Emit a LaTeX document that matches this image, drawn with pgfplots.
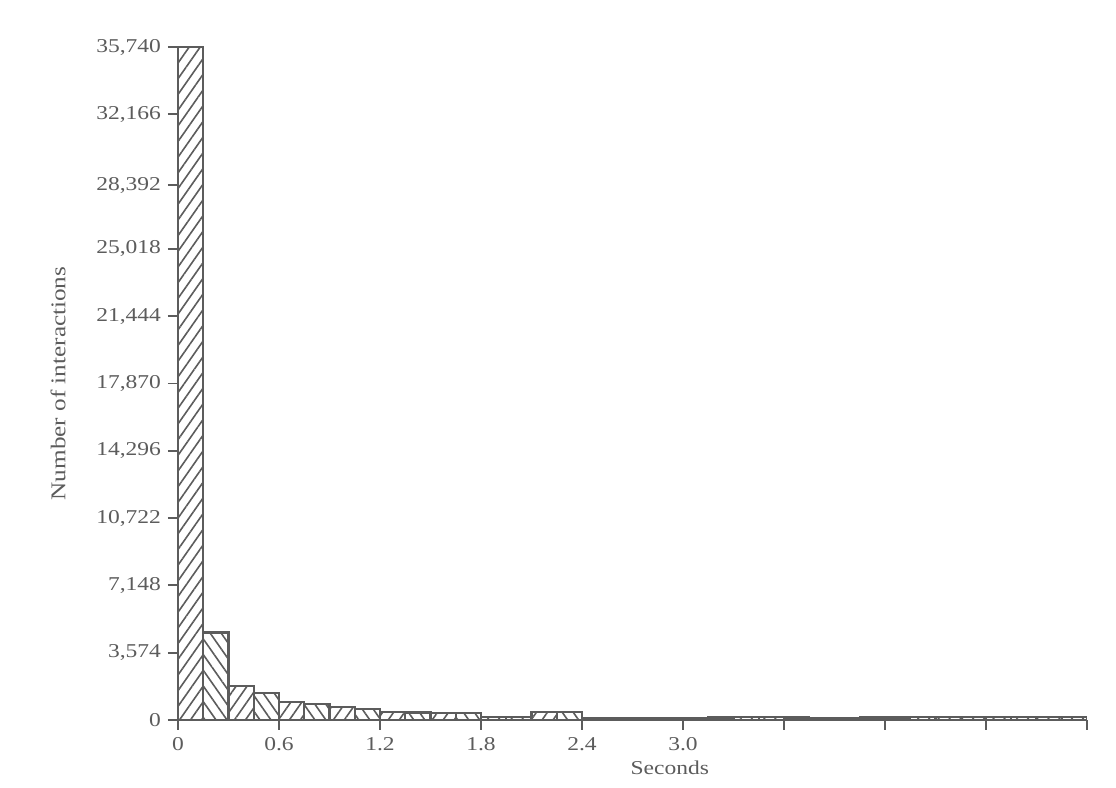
\documentclass[border=0pt]{standalone}
\usepackage{fontspec}
\setmainfont{Liberation Serif}[FakeStretch=1.2]
\usepackage{pgfplots}
\usepackage{pgfplotstable}
\pgfplotsset{compat=1.18}
\usetikzlibrary{patterns.meta}
\definecolor{ink}{gray}{0.36}

% bins of 0.15 s, alternating hatch
\pgfplotstableread{
x y
0.075 35740
0.375 1820
0.675 940
0.975 700
1.275 440
1.575 370
1.875 160
2.175 440
2.475 120
2.775 100
3.075 110
3.375 140
3.675 130
3.975 120
4.275 130
4.575 140
4.875 170
5.175 170
}\oddbins
\pgfplotstableread{
x y
0.225 4650
0.525 1420
0.825 830
1.125 570
1.425 400
1.725 370
2.025 160
2.325 440
2.625 110
2.925 100
3.225 130
3.525 140
3.825 120
4.125 130
4.425 140
4.725 150
5.025 170
5.325 180
}\evenbins

\begin{document}
\begin{tikzpicture}
\path[use as bounding box] (-89pt,-34pt) rectangle (469pt,360pt);
\begin{axis}[
    at={(0,0)}, anchor=south west,
    scale only axis, width=454.5pt, height=336.5pt,
    axis lines*=left,
    axis line style={ink, line width=1pt},
    tick style={ink, line width=0.9pt},
    tick align=outside,
    major tick length=5pt,
    xmin=0, xmax=5.4, ymin=0, ymax=35740,
    xtick={0,0.6,1.2,1.8,2.4,3.0,3.6,4.2,4.8,5.4},
    xticklabels={0,0.6,1.2,1.8,2.4,3.0,{},{},{},{}},
    ytick={0,3574,7148,10722,14296,17870,21444,25018,28392,32166,35740},
    scaled y ticks=false,
    yticklabel style={/pgf/number format/.cd, fixed, 1000 sep={,}, assume math mode=true},
    ticklabel style={font=\fontsize{9.8}{11}\selectfont, text=ink},
    ylabel={Number of interactions},
    xlabel={Seconds},
    every axis y label/.style={at={(axis description cs:-0.132,0.5)}, rotate=90, anchor=center, font=\fontsize{10.5}{12}\selectfont, text=ink},
    every axis x label/.style={at={(axis description cs:0.541,-0.071)}, anchor=center, font=\fontsize{9.8}{11}\selectfont, text=ink},
    ybar, bar width=0.15,
]
\addplot[ybar, bar shift=0pt, draw=ink, line width=1.1pt,
    pattern={Lines[angle=55, distance=4.5pt, line width=0.8pt]}, pattern color=ink] table {\oddbins};
\addplot[ybar, bar shift=0pt, draw=ink, line width=1.1pt,
    pattern={Lines[angle=-55, distance=4.5pt, line width=0.8pt]}, pattern color=ink] table {\evenbins};
\end{axis}
\end{tikzpicture}
\end{document}
